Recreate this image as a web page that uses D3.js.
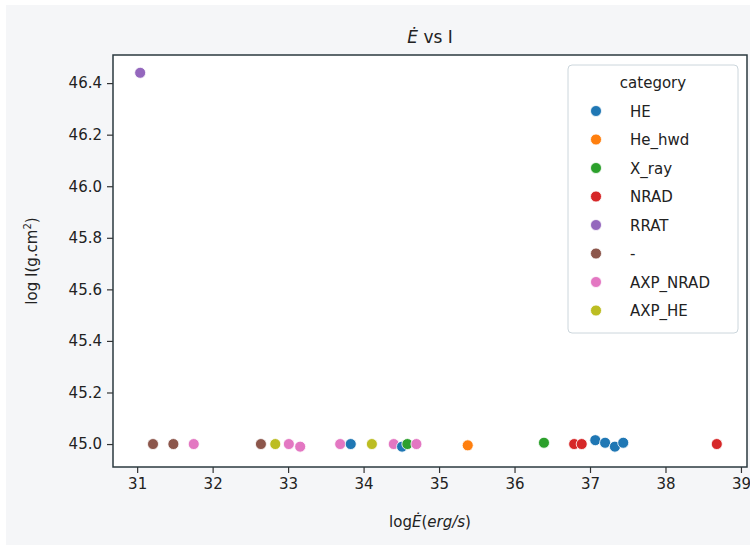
<!DOCTYPE html>
<html>
<head>
<meta charset="utf-8">
<script src="https://cdn.jsdelivr.net/npm/d3@7"></script>
<style>
  body { margin: 0; background: #fff; }
  text { font-family: "DejaVu Sans", sans-serif; fill: #222; }
</style>
</head>
<body>
<svg width="750" height="550"></svg>
<script>
// category order, as in the legend
var categories = ["HE", "He_hwd", "X_ray", "NRAD", "RRAT", "-", "AXP_NRAD", "AXP_HE"];
var colors = ["#1f77b4", "#ff7f0e", "#2ca02c", "#d62728", "#9467bd", "#8c564b", "#e377c2", "#bcbd22"];

// points: log Edot, log I, category
var edot = [31.04, 31.21, 31.48, 31.75, 32.64, 32.83, 33.01, 33.16, 33.69, 33.83, 34.11, 34.40, 34.51, 34.58, 34.70, 35.38, 36.39, 36.79, 36.89, 37.07, 37.20, 37.33, 37.44, 38.68];
var logI = [46.44, 45.0, 45.0, 45.0, 45.0, 45.0, 45.0, 44.99, 45.0, 45.0, 45.0, 45.0, 44.99, 45.0, 45.0, 44.995, 45.005, 45.0, 45.0, 45.015, 45.005, 44.99, 45.005, 45.0];
var cats = ["RRAT", "-", "-", "AXP_NRAD", "-", "AXP_HE", "AXP_NRAD", "AXP_NRAD", "AXP_NRAD", "HE", "AXP_HE", "AXP_NRAD", "HE", "X_ray", "AXP_NRAD", "He_hwd", "X_ray", "NRAD", "NRAD", "HE", "HE", "HE", "HE", "NRAD"];

var xTicks = [31, 32, 33, 34, 35, 36, 37, 38, 39];
var yTicks = [45.0, 45.2, 45.4, 45.6, 45.8, 46.0, 46.2, 46.4];

var pLeft = 113, pRight = 747, pTop = 55, pBottom = 467;

var svg = d3.select("svg");

// figure background
svg.append("rect").attr("x", 6).attr("y", 5).attr("width", 744).attr("height", 540)
  .attr("fill", "#f5f6f8");

svg.append("rect").attr("x", pLeft).attr("y", pTop)
  .attr("width", pRight - pLeft).attr("height", pBottom - pTop)
  .attr("fill", "#fff");

var x = d3.scaleLinear().domain([30.68, 39.08]).range([pLeft, pRight]);
var y = d3.scaleLinear().domain([44.911, 46.509]).range([pBottom, pTop]);
var color = d3.scaleOrdinal().domain(categories).range(colors);

var xAxis = svg.append("g")
  .attr("transform", "translate(0," + pBottom + ")")
  .call(d3.axisBottom(x).tickValues(xTicks).tickFormat(d3.format("d")).tickSize(6).tickPadding(5));

var yAxis = svg.append("g")
  .attr("transform", "translate(" + pLeft + ",0)")
  .call(d3.axisLeft(y).tickValues(yTicks).tickFormat(d3.format(".1f")).tickSize(6).tickPadding(5));

[xAxis, yAxis].forEach(function(a) {
  a.select(".domain").remove();
  a.selectAll("line").attr("stroke", "#333").attr("stroke-width", 1.2);
  a.selectAll("text").style("font-size", "15px").style("font-family", "DejaVu Sans").attr("fill", "#222");
});

// frame
svg.append("rect").attr("x", pLeft).attr("y", pTop)
  .attr("width", pRight - pLeft).attr("height", pBottom - pTop)
  .attr("fill", "none").attr("stroke", "#2b3a3f").attr("stroke-width", 1.5);

// points
svg.append("g").selectAll("circle")
  .data(edot)
  .join("circle")
  .attr("cx", function(d) { return x(d); })
  .attr("cy", function(d, i) { return y(logI[i]); })
  .attr("r", 5.5)
  .attr("fill", function(d, i) { return color(cats[i]); })
  .attr("stroke", "#fff")
  .attr("stroke-width", 0.8);

// title
var title = svg.append("text")
  .attr("x", (pLeft + pRight) / 2).attr("y", 43)
  .attr("text-anchor", "middle")
  .style("font-size", "17px");
title.append("tspan").style("font-style", "italic").text("E\u0307");
title.append("tspan").text(" vs I");

// x label
var xl = svg.append("text")
  .attr("x", (pLeft + pRight) / 2).attr("y", 527)
  .attr("text-anchor", "middle")
  .style("font-size", "15px");
xl.append("tspan").text("log");
xl.append("tspan").style("font-style", "italic").text("E\u0307");
xl.append("tspan").text("(");
xl.append("tspan").style("font-style", "italic").text("erg/s");
xl.append("tspan").text(")");

// y label
var yl = svg.append("text")
  .attr("transform", "translate(37," + (pTop + pBottom) / 2 + ") rotate(-90)")
  .attr("text-anchor", "middle")
  .style("font-size", "15px");
yl.append("tspan").text("log I(g.cm");
yl.append("tspan").attr("dy", -6).style("font-size", "10px").text("2");
yl.append("tspan").attr("dy", 6).text(")");

// legend
var lg = svg.append("g");
lg.append("rect").attr("x", 568).attr("y", 65).attr("width", 170).attr("height", 268)
  .attr("rx", 4).attr("fill", "#fff").attr("fill-opacity", 0.8)
  .attr("stroke", "#ccd6dc").attr("stroke-width", 1);
lg.append("text").attr("x", 653).attr("y", 88).attr("text-anchor", "middle")
  .style("font-size", "15px").text("category");
var items = lg.selectAll("g.item").data(categories).join("g")
  .attr("class", "item")
  .attr("transform", function(d, i) { return "translate(0," + (111 + i * 28.5) + ")"; });
items.append("circle").attr("cx", 596).attr("cy", 0).attr("r", 5.5)
  .attr("fill", function(d) { return color(d); })
  .attr("stroke", "#fff").attr("stroke-width", 0.8);
items.append("text").attr("x", 630).attr("y", 5.5)
  .style("font-size", "15px").text(function(d) { return d; });
</script>
</body>
</html>
